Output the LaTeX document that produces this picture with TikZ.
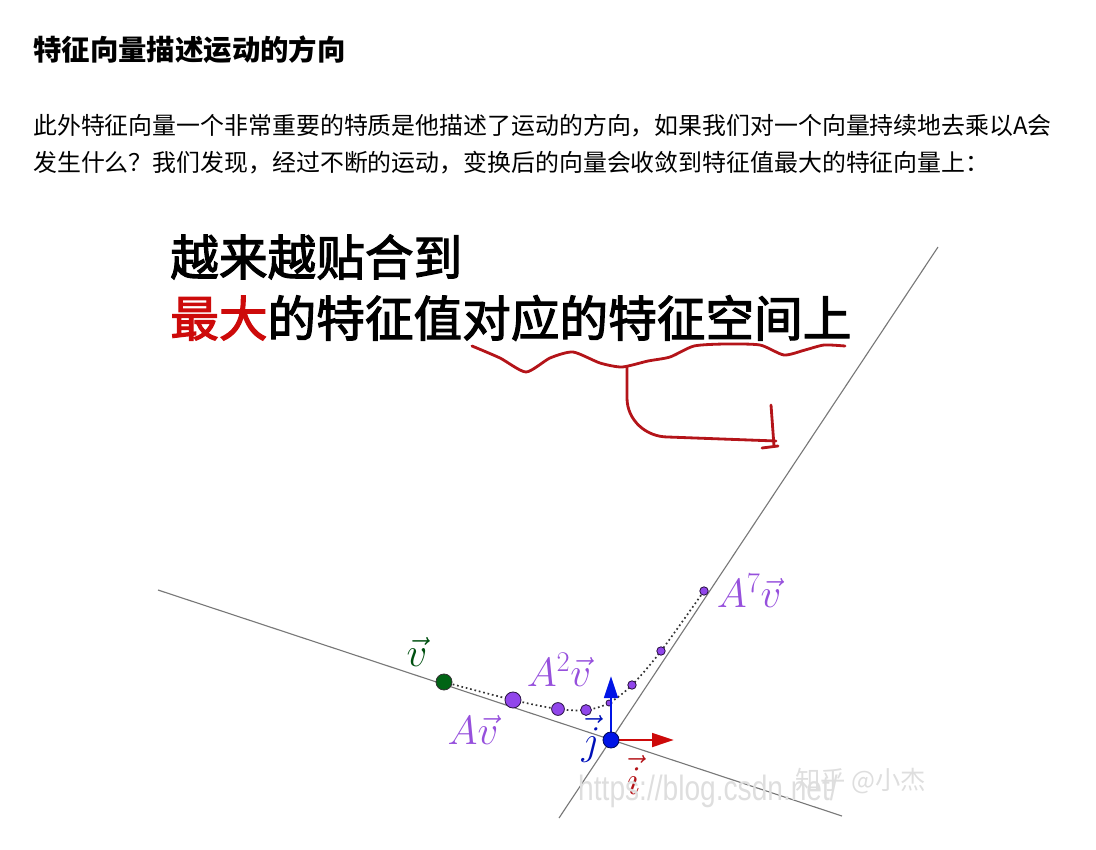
\RequirePackage{fix-cm}
\documentclass[tikz,border=0pt]{standalone}
\usepackage{fontspec}
\setmainfont{Liberation Sans}
\newfontfamily\cjk{Noto Sans CJK SC}
\newfontfamily\cjkbig[FakeBold=2.4]{Noto Sans CJK SC}
\usetikzlibrary{arrows.meta, positioning}
\definecolor{evgray}{RGB}{120, 120, 120}
\definecolor{evpurple}{RGB}{150, 80, 220}
\definecolor{evdot}{RGB}{145, 70, 235}
\definecolor{evgreen}{RGB}{0, 100, 20}
\definecolor{evblue}{RGB}{0, 20, 230}
\definecolor{evred}{RGB}{205, 10, 10}
\definecolor{inkred}{RGB}{180, 20, 25}
\definecolor{wmgray}{RGB}{222, 222, 222}

\begin{document}
\begin{tikzpicture}[x=0.025cm, y=-0.025cm,
        head/.style={anchor=west, inner sep=0pt, font=\cjk\bfseries\fontsize{20.2}{24}\selectfont},
        para/.style={anchor=west, inner sep=0pt, font=\cjk\fontsize{17}{22}\selectfont},
        big/.style={anchor=west, inner sep=0pt, font=\cjkbig\fontsize{34.6}{40}\selectfont},
        eig/.style={draw=evgray, line width=0.8pt},
        vdot/.style={circle, draw=black!70!evdot, fill=evdot, line width=0.6pt, inner sep=0pt},
        vlbl/.style={inner sep=0pt, text=evpurple, font=\fontsize{29}{29}\selectfont},
        axis/.style={-{Triangle[length=5.5mm, width=3.4mm]}, line width=2.1pt},
        ink/.style={inkred, line width=2pt, line cap=round, line join=round},
        wm/.style={inner sep=0pt, text=wmgray}
      ]
        \useasboundingbox (0,0) rectangle (1096,849);
        % text above the figure
        \node[head] (title) at (33, 50) {特征向量描述运动的方向};
        \node[para] (par1) at (33, 126) {此外特征向量一个非常重要的特质是他描述了运动的方向，如果我们对一个向量持续地去乘以A会};
        \node[para] (par2) at (33, 163) {发生什么？我们发现，经过不断的运动，变换后的向量会收敛到特征值最大的特征向量上：};
        \node[big] (big1) at (170, 257) {越来越贴合到};
        \node[big] (big2) at (170, 318) {{\color{evred}最大}的特征值对应的特征空间上};
        % eigen lines
        \coordinate (O) at (611, 740);
        \coordinate (l1a) at (158, 590);
        \coordinate (l1b) at (842, 816);
        \coordinate (l2a) at (938, 247);
        \coordinate (l2b) at (559, 818);
        \draw[eig] (l1a) -- (l1b);
        \draw[eig] (l2a) -- (l2b);
        % handwritten underline and arrow
        \draw[ink] plot[smooth, tension=0.4] coordinates {(472,346) (500,358) (526,372) (550,358) (573,352) (600,363) (622,367) (648,361) (670,357) (694,346) (725,344) (760,345) (784,355) (805,350) (824,345) (845,346)};
        \draw[ink] (627,367) -- (627,398) to[out=-90, in=180] (668,437) -- (776,441);
        \draw[ink] (771,405) -- (774,446);
        \draw[ink] (762,448) -- (778,446);
        % iterates of the vector
        \foreach \n/\x/\y in {0/444/682, 1/513/700, 2/558/709, 3/586/710, 4/609/703, 5/632/685, 6/661/651, 7/704/591}
          \coordinate (p\n) at (\x,\y);
        \draw[black!80, dotted, line width=1.2pt] plot[smooth, tension=0.5] coordinates {(p0) (p1) (p2) (p3) (p4) (p5) (p6) (p7)};
        \node[circle, draw=black!80, fill=evgreen, line width=0.6pt, inner sep=0pt, minimum size=0.4cm] (d0) at (p0) {};
        \foreach \n/\s in {1/0.4, 2/0.32, 3/0.27, 4/0.15, 5/0.21, 6/0.21, 7/0.21}
          \node[vdot, minimum size=\s cm] (d\n) at (p\n) {};
        % unit vectors
        \draw[axis, evred] (O) -- (674, 740) coordinate (itip);
        \draw[axis, evblue] (O) -- (611, 676) coordinate (jtip);
        \node[circle, draw=black!60!evblue, fill=evblue, line width=0.6pt, inner sep=0pt, minimum size=0.4cm] (orig) at (O) {};
        % labels
        \node[vlbl, text=evgreen!80!black] (lv) at (417, 652) {$\vec{v}$};
        \node[vlbl] (lav) at (473, 730) {$A\vec{v}$};
        \node[vlbl] (la2v) at (559, 670) {$A^2\vec{v}$};
        \node[vlbl, right=2mm of d7] (la7v) {$A^7\vec{v}$};
        \node[vlbl, text=evblue!80!black] (lj) at (591, 739) {$\vec{j}$};
        \node[vlbl, text=inkred] (li) at (634, 775) {$\vec{i}$};
        % watermarks
        \node[wm, anchor=west, xscale=0.8, font=\fontsize{25}{25}\selectfont] (url) at (578, 791) {https://blog.csdn.net/};
        \node[wm, anchor=west, font=\cjk\fontsize{18}{18}\selectfont] (zh) at (795, 781) {知乎 @小杰};
      \end{tikzpicture}
\end{document}
